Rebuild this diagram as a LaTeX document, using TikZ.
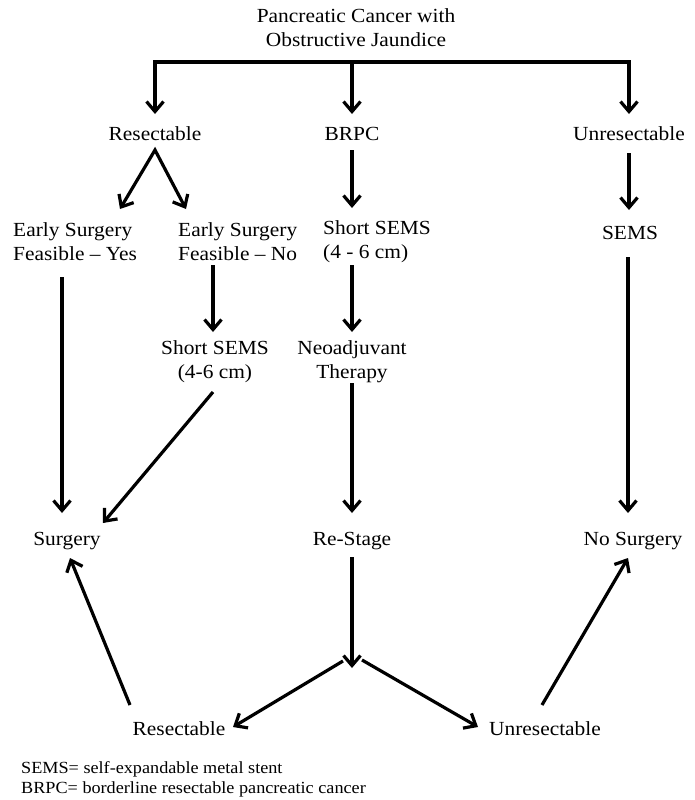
\documentclass[tikz,border=0pt]{standalone}
\usepackage{fontspec}
\setmainfont{Liberation Serif}[FakeStretch=1.07]
\usetikzlibrary{arrows.meta}
\begin{document}
\begin{tikzpicture}[x=1pt,y=-1pt,
  lbl/.style={font=\fontsize{20}{24}\selectfont, inner sep=0pt},
  one/.style={lbl, text height=14pt, text depth=4pt},
  legend/.style={font=\fontsize{17}{20}\selectfont, inner sep=0pt, align=left, anchor=west},
  arr/.style={line width=3.2pt, -{Straight Barb[length=10pt,width=17pt]}},
  arrboth/.style={line width=3.2pt, {Straight Barb[length=10pt,width=17pt]}-{Straight Barb[length=10pt,width=17pt]}}
]
\useasboundingbox (0,0) rectangle (694,800);
% nodes
\node[lbl, align=center] (title) at (356,28) {Pancreatic Cancer with\\Obstructive Jaundice};
\node[one] (res) at (155,135) {Resectable};
\node[one] (brpc) at (352,135) {BRPC};
\node[one] (unres) at (629,135) {Unresectable};
\node[lbl, align=left, anchor=west] (yes) at (13,242) {Early Surgery\\Feasible -- Yes};
\node[lbl, align=left, anchor=west] (no) at (178,242) {Early Surgery\\Feasible -- No};
\node[lbl, align=left, anchor=west] (bsems) at (323,242) {Short SEMS\\(4 - 6 cm)};
\node[one] (sems) at (630,234) {SEMS};
\node[lbl, align=center] (lsems) at (215,362) {Short SEMS\\(4-6 cm)};
\node[lbl, align=center] (neo) at (352,362) {Neoadjuvant\\Therapy};
\node[one] (surg) at (67,540) {Surgery};
\node[one] (restage) at (352,540) {Re-Stage};
\node[one] (nosurg) at (633,540) {No Surgery};
\node[one] (bres) at (179,730) {Resectable};
\node[one] (bunres) at (545,730) {Unresectable};
\node[legend] (leg) at (21,779) {SEMS= self-expandable metal stent\\BRPC= borderline resectable pancreatic cancer};
\coordinate (fork) at ([shift={(0,128)}]restage.center);
% top bracket
\draw[arrboth] ([shift={(0,-21)}]res.center) -- ([shift={(0,-73)}]res.center) -| ([shift={(0,-21)}]unres.center);
\draw[arr] ([shift={(0,-73)}]brpc.center) -- ([shift={(0,-21)}]brpc.center);
% resectable fork
\draw[arrboth] ([shift={(107,-33)}]yes.west) -- ([shift={(0,15)}]res.center) -- ([shift={(8,-33)}]no.west);
% BRPC column
\draw[arr] ([shift={(0,15)}]brpc.center) -- ([shift={(29,-34)}]bsems.west);
\draw[arr] ([shift={(29,23)}]bsems.west) -- ([shift={(0,-30)}]neo.center);
\draw[arr] ([shift={(0,21)}]neo.center) -- ([shift={(0,-27)}]restage.center);
% unresectable column
\draw[arr] ([shift={(0,18)}]unres.center) -- ([shift={(-1,-24)}]sems.center);
\draw[arr] ([shift={(-2,23)}]sems.center) -- ([shift={(-5,-27)}]nosurg.center);
% left columns
\draw[arr] ([shift={(49,35)}]yes.west) -- ([shift={(-5,-27)}]surg.center);
\draw[arr] ([shift={(35,23)}]no.west) -- ([shift={(-2,-30)}]lsems.center);
\draw[arr] ([shift={(-2,30)}]lsems.center) -- ([shift={(36,-17)}]surg.center);
% re-stage fork
\draw[arr] ([shift={(0,17)}]restage.center) -- (fork);
\draw[arr] ([shift={(-9,-7)}]fork) -- ([shift={(54,-3)}]bres.center);
\draw[arr] ([shift={(10,-8)}]fork) -- ([shift={(-67,-3)}]bunres.center);
% bottom returns
\draw[arr] ([shift={(-49,-25)}]bres.center) -- ([shift={(3,18)}]surg.center);
\draw[arr] ([shift={(-3,-25)}]bunres.center) -- ([shift={(-5,18)}]nosurg.center);
\end{tikzpicture}
\end{document}
